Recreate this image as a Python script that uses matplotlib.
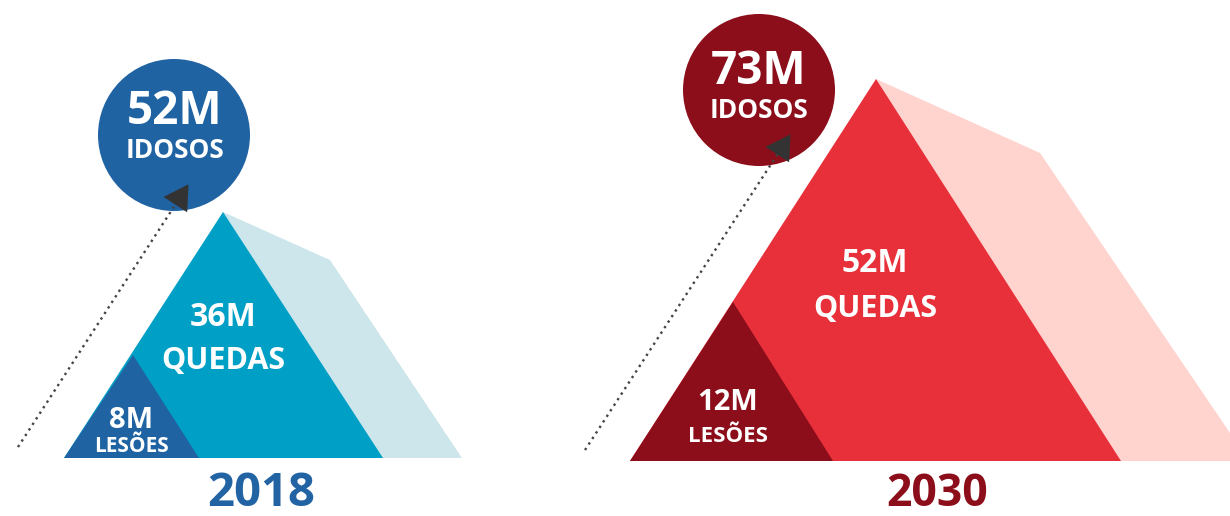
import matplotlib.pyplot as plt
from matplotlib.patches import Polygon, Circle

plt.rcParams['font.family'] = ['Open Sans', 'DejaVu Sans']

# dados (milhoes)
years = ['2018', '2030']
idosos = [52, 73]
quedas = [36, 52]
lesoes = [8, 12]

# layout de cada painel (pixels): base y, pontos dos triangulos, circulo, seta
panels = [
    dict(base=458, left=64, apex=(223, 212), right=(383, 458), shade=[(330, 260), (462, 458)],
         small_apex=(133, 355), small_right=199, circ=(174, 135), r=76,
         dot_from=(18, 447), dot_to=(190, 182),
         c_dark='#1F63A3', c_main='#00A0C6', c_light='#CDE6EC', c_year='#2163A3',
         txt_circ=(175, 112, 150), txt_main=(223, 318, 361), txt_small=(131, 420, 447),
         txt_year=(261, 494), fs_small=15, fs_year=34),
    dict(base=461, left=630, apex=(876, 79), right=(1121, 461), shade=[(1040, 153), (1249, 461)],
         small_apex=(733, 302), small_right=833, circ=(759, 90), r=76,
         dot_from=(585, 450), dot_to=(792, 132),
         c_dark='#8B0E1A', c_main='#E8303A', c_light='#FFD3CE', c_year='#8B0E1A',
         txt_circ=(759, 71, 110), txt_main=(875, 264, 309), txt_small=(728, 403, 436),
         txt_year=(937, 494), fs_small=16, fs_year=32),
]

fig = plt.figure(figsize=(12.3, 5.16), dpi=100)
ax = fig.add_axes([0, 0, 1, 1])
ax.set_xlim(0, 1230)
ax.set_ylim(516, 0)
ax.axis('off')

for i, p in enumerate(panels):
    b = p['base']
    # sombra clara atras
    ax.add_patch(Polygon([p['apex']] + p['shade'] + [(p['apex'][0], b)],
                         closed=True, fc=p['c_light'], ec='none'))
    # triangulo principal (quedas)
    ax.add_patch(Polygon([(p['left'], b), p['apex'], p['right']],
                         closed=True, fc=p['c_main'], ec='none'))
    # triangulo pequeno (lesoes)
    ax.add_patch(Polygon([(p['left'], b), p['small_apex'], (p['small_right'], b)],
                         closed=True, fc=p['c_dark'], ec='none'))
    # circulo idosos
    ax.add_patch(Circle(p['circ'], p['r'], fc=p['c_dark'], ec='none'))

    # linha pontilhada com seta
    x0, y0 = p['dot_from']
    x1, y1 = p['dot_to']
    ax.plot([x0, x0 + (x1 - x0) * 0.94], [y0, y0 + (y1 - y0) * 0.94],
            ls=(0, (1, 1.8)), color='#444444', lw=1.7)
    ax.annotate('', xy=(x1, y1), xytext=(x0 + (x1 - x0) * 0.93, y0 + (y1 - y0) * 0.93),
                arrowprops=dict(arrowstyle='-|>,head_length=0.6,head_width=0.35',
                                color='#333333', lw=0, mutation_scale=29))

    cx, ty1, ty2 = p['txt_circ']
    ax.text(cx, ty1, f'{idosos[i]}M', color='white', fontsize=33, fontweight='bold',
            ha='center', va='center')
    ax.text(cx, ty2, 'IDOSOS', color='white', fontsize=19, fontweight='bold',
            ha='center', va='center')

    mx, my1, my2 = p['txt_main']
    ax.text(mx, my1, f'{quedas[i]}M', color='white', fontsize=23, fontweight='bold',
            ha='center', va='center')
    ax.text(mx, my2, 'QUEDAS', color='white', fontsize=22, fontweight='bold',
            ha='center', va='center')

    sx, sy1, sy2 = p['txt_small']
    ax.text(sx, sy1, f'{lesoes[i]}M', color='white', fontsize=21, fontweight='bold',
            ha='center', va='center')
    ax.text(sx, sy2, 'LESÕES', color='white', fontsize=p['fs_small'], fontweight='bold',
            ha='center', va='center')

    yx, yy = p['txt_year']
    ax.text(yx, yy, years[i], color=p['c_year'], fontsize=p['fs_year'], fontweight='bold',
            ha='center', va='center')

fig.savefig('out.png', dpi=100)
